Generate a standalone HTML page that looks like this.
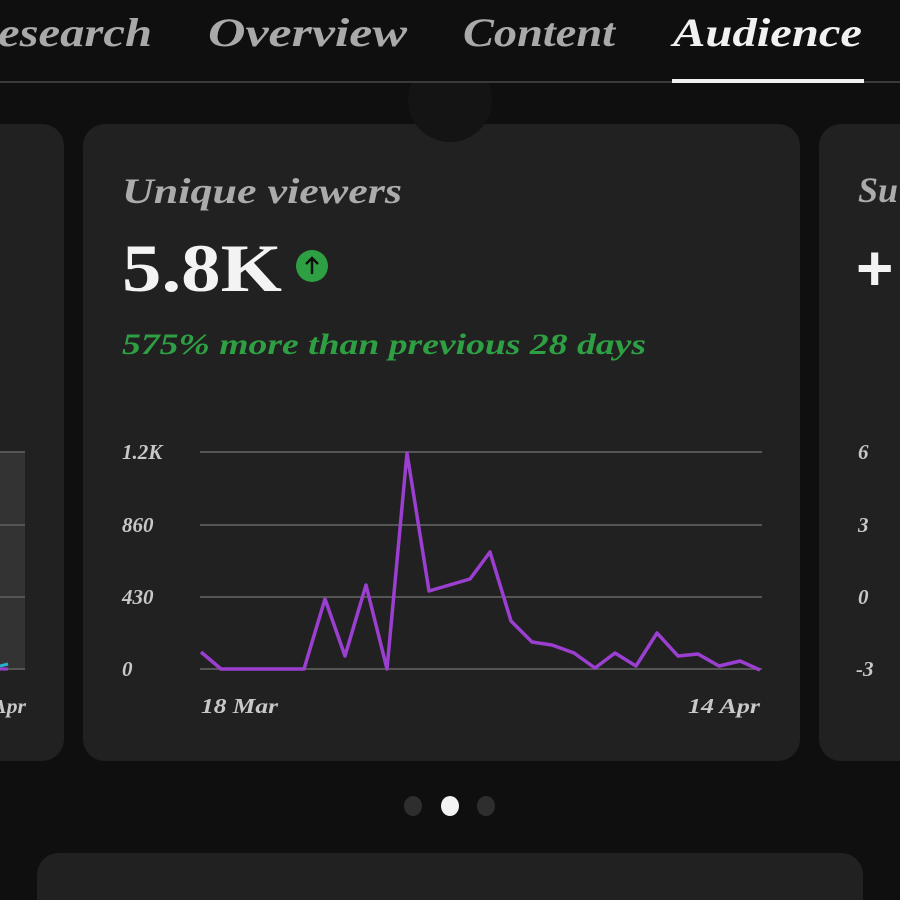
<!DOCTYPE html>
<html><head><meta charset="utf-8"><style>
html,body{margin:0;padding:0;background:#0f0f0f;width:900px;height:900px;overflow:hidden}
svg{display:block}
.s{font-family:"Liberation Serif",serif;font-style:italic;font-weight:bold}
</style></head><body>
<svg width="900" height="900" viewBox="0 0 900 900" xmlns="http://www.w3.org/2000/svg">
<defs><clipPath id="cb"><rect x="0" y="83" width="900" height="100"/></clipPath></defs>
<rect width="900" height="900" fill="#0f0f0f"/>
<!-- tabs -->
<g class="s" font-size="40" fill="#a9a9a9">
<text x="-2" y="46" textLength="154" lengthAdjust="spacingAndGlyphs">esearch</text>
<text x="208" y="46" textLength="199" lengthAdjust="spacingAndGlyphs">Overview</text>
<text x="463" y="46" textLength="152" lengthAdjust="spacingAndGlyphs">Content</text>
<text x="673" y="46" fill="#f1f1f1" textLength="189" lengthAdjust="spacingAndGlyphs">Audience</text>
</g>
<!-- main card -->
<rect x="83" y="124" width="717" height="637" rx="22" fill="#212121"/>
<circle cx="450" cy="100" r="42" fill="#141414" clip-path="url(#cb)"/>
<rect x="0" y="81" width="900" height="2" fill="#3a3a3a"/>
<rect x="672" y="79" width="192" height="4" fill="#f1f1f1"/>
<!-- left card -->
<rect x="-40" y="124" width="104" height="637" rx="22" fill="#212121"/>
<rect x="0" y="452" width="25" height="218" fill="#333333"/>
<g stroke="#555" stroke-width="2"><line x1="0" y1="452" x2="25" y2="452"/><line x1="0" y1="525" x2="25" y2="525"/><line x1="0" y1="597" x2="25" y2="597"/><line x1="0" y1="669" x2="25" y2="669"/></g>
<polyline points="0,666 8,664" stroke="#25b4d0" stroke-width="3" fill="none"/>
<line x1="0" y1="669" x2="8" y2="669" stroke="#9b3fd0" stroke-width="3"/>
<text class="s" x="-8" y="713" font-size="20" fill="#c8c8c8" textLength="34" lengthAdjust="spacingAndGlyphs">Apr</text>
<text class="s" x="122" y="203" font-size="36" fill="#ababab" textLength="280" lengthAdjust="spacingAndGlyphs">Unique viewers</text>
<text x="122" y="291" font-family="Liberation Serif,serif" font-weight="bold" font-size="68" fill="#f3f3f3" textLength="160" lengthAdjust="spacingAndGlyphs">5.8K</text>
<circle cx="312" cy="266" r="16" fill="#2ea043"/>
<path d="M312 274 V258 M306 264 L312 258 L318 264" stroke="#0f0f0f" stroke-width="2.4" fill="none"/>
<text class="s" x="122" y="354" font-size="30" fill="#2ea043" textLength="524" lengthAdjust="spacingAndGlyphs">575% more than previous 28 days</text>
<g stroke="#555" stroke-width="2">
<line x1="200" y1="452" x2="762" y2="452"/><line x1="200" y1="525" x2="762" y2="525"/>
<line x1="200" y1="597" x2="762" y2="597"/><line x1="200" y1="669" x2="762" y2="669"/>
</g>
<g class="s" font-size="21" fill="#c8c8c8">
<text x="122" y="459">1.2K</text><text x="122" y="532">860</text>
<text x="122" y="604">430</text><text x="122" y="676">0</text>
<text x="201" y="713" textLength="77" lengthAdjust="spacingAndGlyphs">18 Mar</text><text x="688" y="713" textLength="72" lengthAdjust="spacingAndGlyphs">14 Apr</text>
</g>
<polyline fill="none" stroke="#9b3fd0" stroke-width="3.5" stroke-linejoin="round" points="201,652 221,669 304,669 325,599 345,656 366,585 387,669 407,453 429,591 470,579 490,552 511,621 532,642 552,645 574,653 595,668 615,653 636,666 657,633 678,656 698,654 719,666 740,661 760,670"/>
<!-- right card -->
<path d="M841 124 H900 V761 H841 A22 22 0 0 1 819 739 V146 A22 22 0 0 1 841 124 Z" fill="#212121"/>
<text class="s" x="858" y="202" font-size="36" fill="#ababab">Su</text>
<text x="856" y="290" font-family="Liberation Sans,sans-serif" font-weight="bold" font-size="64" fill="#f3f3f3">+</text>
<g class="s" font-size="21" fill="#c8c8c8">
<text x="858" y="459">6</text><text x="858" y="532">3</text><text x="858" y="604">0</text><text x="856" y="676">-3</text>
</g>
<!-- dots -->
<ellipse cx="413" cy="806" rx="9" ry="10" fill="#2e2e2e"/>
<ellipse cx="450" cy="806" rx="9" ry="10" fill="#f3f3f3"/>
<ellipse cx="486" cy="806" rx="9" ry="10" fill="#2e2e2e"/>
<!-- bottom card -->
<path d="M59 853 H841 A22 22 0 0 1 863 875 V900 H37 V875 A22 22 0 0 1 59 853 Z" fill="#212121"/>
</svg>
</body></html>
